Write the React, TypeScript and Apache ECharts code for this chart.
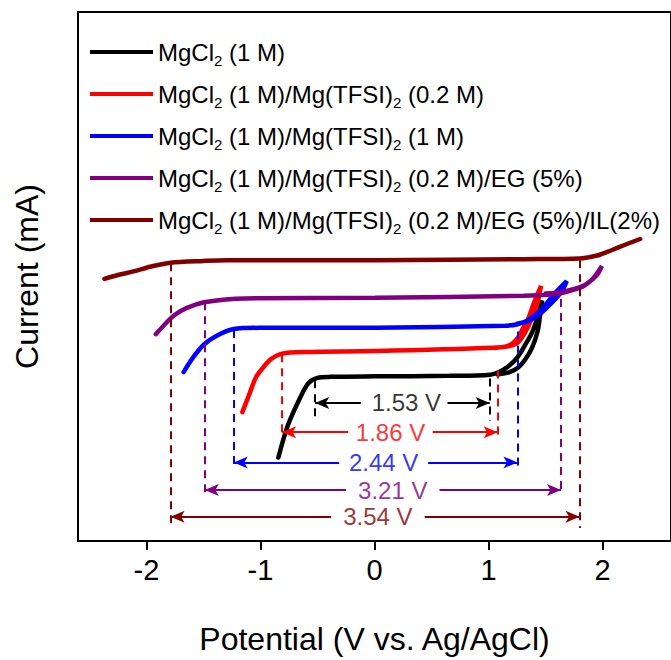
import React, { useEffect, useRef } from "react";
import * as echarts from "echarts";

// ---- data (potential V vs. Ag/AgCl, current arbitrary mA scale) ----
const seriesNames = [
  "MgCl2 (1 M)",
  "MgCl2 (1 M)/Mg(TFSI)2 (0.2 M)",
  "MgCl2 (1 M)/Mg(TFSI)2 (1 M)",
  "MgCl2 (1 M)/Mg(TFSI)2 (0.2 M)/EG (5%)",
  "MgCl2 (1 M)/Mg(TFSI)2 (0.2 M)/EG (5%)/IL(2%)",
];
const seriesColors = ["#000000", "#ff0000", "#0000ff", "#800080", "#800000"];

const blackCurve = [
  [-0.843, 8.57], [-0.761, 11.83], [-0.647, 14.83], [-0.58, 16.2], [-0.5, 16.75],
  [-0.386, 16.85], [0.0, 16.9], [0.657, 16.95], [1.015, 17.07], [1.1, 17.4],
  [1.16, 17.8], [1.25, 18.8], [1.33, 20.3], [1.385, 21.5], [1.43, 23.0], [1.47, 24.7],
  [1.45, 23.0], [1.43, 21.5], [1.38, 19.8], [1.32, 18.6], [1.26, 17.8], [1.18, 17.3], [1.08, 17.1],
];
const redCurve = [
  [-1.159, 13.23], [-1.1, 15.0], [-1.038, 16.83], [-0.97, 17.9], [-0.908, 18.67],
  [-0.81, 19.23], [-0.6, 19.4], [0.005, 19.5], [1.113, 19.9], [1.2, 20.2], [1.26, 20.9],
  [1.3, 21.8], [1.34, 22.6], [1.4, 24.5], [1.46, 26.2],
  [1.43, 24.5], [1.37, 22.6], [1.32, 21.4], [1.26, 20.4], [1.18, 20.0], [1.05, 19.8],
];
const blueCurve = [
  [-1.674, 17.33], [-1.6, 18.7], [-1.495, 20.17], [-1.38, 21.1], [-1.234, 21.77],
  [-1.0, 21.88], [0.005, 21.9], [1.146, 22.1], [1.255, 22.25], [1.35, 22.7],
  [1.46, 23.7], [1.575, 25.33], [1.686, 26.67],
  [1.64, 25.6], [1.55, 24.4], [1.45, 23.3], [1.35, 22.6], [1.25, 22.3],
];
const purpleCurve = [
  [-1.918, 21.23], [-1.85, 22.1], [-1.756, 23.17], [-1.65, 23.9], [-1.495, 24.5],
  [-1.3, 24.8], [-1.136, 24.9], [0.005, 24.97], [1.309, 25.17], [1.55, 25.3],
  [1.66, 25.5], [1.75, 25.8], [1.835, 26.17], [1.92, 27.0], [1.994, 28.23],
  [1.95, 27.3], [1.86, 26.4], [1.76, 25.9], [1.65, 25.6], [1.5, 25.4],
];
const darkRedCurve = [
  [-2.368, 26.9], [-2.25, 27.3], [-2.114, 27.67], [-1.95, 28.2], [-1.788, 28.57],
  [-1.5, 28.75], [-1.3, 28.83], [0.005, 28.83], [1.309, 28.93], [1.8, 29.0],
  [1.95, 29.3], [2.04, 29.67], [2.15, 30.2], [2.33, 31.0],
];
const curves = [blackCurve, redCurve, blueCurve, purpleCurve, darkRedCurve];

// electrochemical windows: [left V, right V]
const windowLabels = ["1.53 V", "1.86 V", "2.44 V", "3.21 V", "3.54 V"];
const windowLeft = [-0.52, -0.81, -1.234, -1.488, -1.788];
const windowRight = [1.01, 1.08, 1.253, 1.635, 1.798];
// dashed marker tops (current at left / right line start), bottom, arrow level
const markerTopLeft = [16.5, 19.17, 21.67, 24.5, 28.5];
const markerTopRight = [16.67, 17.5, 21.5, 24.83, 28.83];
const markerBottom = [12.33, 10.83, 7.57, 4.83, 1.33];
const arrowLevel = [14.17, 11.17, 8.07, 5.23, 2.5];
// label centre and gap in arrow line
const labelCenter = [0.28, 0.14, 0.08, 0.16, 0.03];
const gapLeft = [-0.12, -0.23, -0.31, -0.25, -0.38];
const gapRight = [0.64, 0.51, 0.47, 0.57, 0.44];

const xTicks = [-2, -1, 0, 1, 2];

const FONT = "Liberation Sans, Arial, sans-serif";

function richName(name: string): string {
  const parts = name.split(/(?<=MgCl|TFSI\))2/);
  let out = "";
  parts.forEach((p, i) => {
    if (p.length) out += "{n|" + p + "}";
    if (i < parts.length - 1) out += "{s|2}";
  });
  return out;
}

export default function App() {
  const ref = useRef<HTMLDivElement>(null);
  useEffect(() => {
    document.body.style.margin = "0";
    const chart = echarts.init(ref.current!, null, { renderer: "svg" });
    const lineSeries: any[] = curves.map((c, i) => ({
      name: seriesNames[i],
      type: "line",
      data: c,
      showSymbol: false,
      smooth: 0.3,
      lineStyle: { color: seriesColors[i], width: 4.5, cap: "round" },
      itemStyle: { color: seriesColors[i] },
      z: 3,
    }));
    const markerSeries: any[] = windowLabels.map((lab, i) => {
      const col = seriesColors[i];
      return {
        name: "win" + i,
        type: "line",
        data: [],
        z: 4,
        markLine: {
          silent: true,
          animation: false,
          label: { show: false },
          symbol: ["none", "none"],
          data: [
            [
              { coord: [windowLeft[i], markerTopLeft[i]], lineStyle: { color: col, width: 2, type: [8, 6] } },
              { coord: [windowLeft[i], markerBottom[i]] },
            ],
            [
              { coord: [windowRight[i], markerTopRight[i]], lineStyle: { color: col, width: 2, type: [8, 6] } },
              { coord: [windowRight[i], markerBottom[i]] },
            ],
            [
              { coord: [windowLeft[i], arrowLevel[i]], symbol: "arrow", symbolSize: [9, 14], lineStyle: { color: col, width: 2, type: "solid" } },
              { coord: [gapLeft[i], arrowLevel[i]], symbol: "none" },
            ],
            [
              { coord: [gapRight[i], arrowLevel[i]], symbol: "none", lineStyle: { color: col, width: 2, type: "solid" } },
              { coord: [windowRight[i], arrowLevel[i]], symbol: "arrow", symbolSize: [9, 14] },
            ],
          ],
        },
      };
    });
    const labelSeries: any = {
      type: "scatter",
      name: "labels",
      symbolSize: 0,
      z: 5,
      data: windowLabels.map((lab, i) => ({
        value: [labelCenter[i], arrowLevel[i]],
        label: {
          show: true,
          position: "inside",
          formatter: lab,
          color: seriesColors[i],
          fontSize: 24,
          fontFamily: FONT,
        },
      })),
    };
    chart.setOption({
      animation: false,
      backgroundColor: "#ffffff",
      grid: {
        left: 78,
        top: 12,
        width: 600,
        height: 543,
        show: true,
        borderColor: "#000",
        borderWidth: 2,
        containLabel: false,
      },
      legend: {
        data: seriesNames,
        orient: "vertical",
        left: 85,
        top: 35,
        itemWidth: 63,
        itemHeight: 4,
        itemGap: 14,
        icon: "rect",
        selectedMode: false,
        formatter: (n: string) => richName(n),
        textStyle: {
          fontFamily: FONT,
          color: "#000",
          rich: {
            n: { fontSize: 24, fontFamily: FONT, color: "#000", lineHeight: 24 },
            s: { fontSize: 15, fontFamily: FONT, color: "#000", height: 7, lineHeight: 7, verticalAlign: "bottom" },
          },
        },
      },
      xAxis: {
        type: "value",
        min: -2.6,
        max: 2.6,
        name: "Potential (V vs. Ag/AgCl)",
        nameLocation: "middle",
        nameGap: 82,
        nameTextStyle: { fontSize: 32, fontFamily: FONT, color: "#000" },
        axisLine: { show: true, onZero: false, lineStyle: { color: "#000", width: 2 } },
        axisTick: { show: true, inside: false, length: 9, lineStyle: { color: "#000", width: 2 }, customValues: xTicks },
        axisLabel: { show: true, fontSize: 29, fontFamily: FONT, color: "#000", margin: 14, customValues: xTicks },
        splitLine: { show: false },
      },
      yAxis: {
        type: "value",
        min: 0,
        max: 54.3,
        name: "Current (mA)",
        nameLocation: "middle",
        nameRotate: 90,
        nameGap: 35,
        nameTextStyle: { fontSize: 32, fontFamily: FONT, color: "#000" },
        axisLine: { show: true, onZero: false, lineStyle: { color: "#000", width: 2 } },
        axisTick: { show: false },
        axisLabel: { show: false },
        splitLine: { show: false },
      },
      series: [...lineSeries, ...markerSeries, labelSeries],
    });
    return () => chart.dispose();
  }, []);
  return <div ref={ref} style={{ width: 671, height: 660 }} />;
}
